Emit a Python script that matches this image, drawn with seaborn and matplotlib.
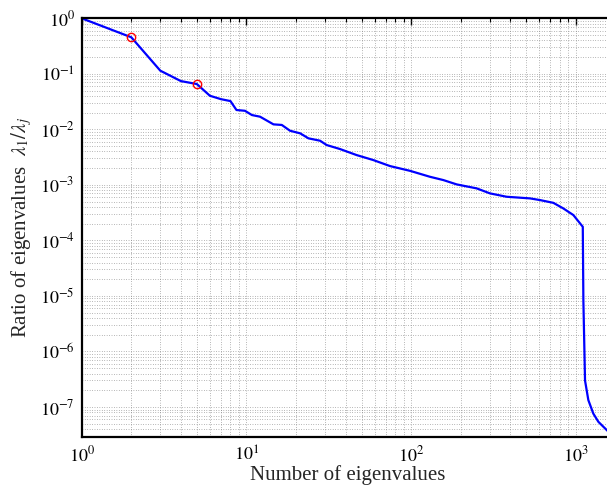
import matplotlib
matplotlib.use("Agg")
import matplotlib.pyplot as plt
import seaborn as sns
import pandas as pd
from matplotlib.ticker import FixedLocator, NullFormatter

# Eigenvalue ratio curve lambda_1 / lambda_j versus number of eigenvalues
n_eig = [1, 2, 3, 4, 5, 6, 7, 8, 8.7, 9.8, 10.8, 12.1, 14.6, 16.4, 18.4, 21.2,
         23.8, 28.0, 30.7, 37.0, 46.7, 58.9, 74.5, 98.5, 130, 157, 189, 250,
         301, 380, 527, 607, 730, 839, 966, 1102, 1111, 1137, 1191, 1277,
         1371, 1546, 1700]
ratio = [1.0, 0.455, 0.114, 0.074, 0.0655, 0.0403, 0.035, 0.0323, 0.0223,
         0.0216, 0.0181, 0.0169, 0.0123, 0.0120, 0.00944, 0.00848, 0.00689,
         0.00624, 0.00522, 0.00442, 0.00344, 0.0028, 0.00218, 0.00179, 0.0014,
         0.00122, 0.00102, 0.000865, 0.000703, 0.000611, 0.000571, 0.000532,
         0.000475, 0.000377, 0.000286, 0.000176, 8.4e-6, 3.0e-7, 1.33e-7,
         7.6e-8, 5.4e-8, 3.8e-8, 2.9e-8]

# Highlighted eigenvalue counts
mark_n = [2, 5]
mark_ratio = [0.455, 0.0655]

# Decade ticks
x_decades = [0, 1, 2, 3]
y_decades = [-7, -6, -5, -4, -3, -2, -1, 0]

curve = pd.DataFrame({"n": n_eig, "ratio": ratio})
marks = pd.DataFrame({"n": mark_n, "ratio": mark_ratio})

sns.set_style("white")
plt.rcParams["font.family"] = ["Liberation Serif", "DejaVu Serif"]
plt.rcParams["mathtext.fontset"] = "stix"

fig = plt.figure(figsize=(6.07, 4.88), dpi=100)
ax = fig.add_axes([0.1346, 0.1045, 0.8766, 0.858])

sns.lineplot(data=curve, x="n", y="ratio", ax=ax, color=(0, 0, 1),
             linewidth=1.6, sort=False, estimator=None)
ax.plot(marks["n"], marks["ratio"], linestyle="none", marker="o",
        markersize=6, markerfacecolor="none", markeredgecolor="red",
        markeredgewidth=1.0)

ax.set_xscale("log")
ax.set_yscale("log")
xlim = (1, 1700)
ylim = (2.88e-8, 1)
ax.set_xlim(*xlim)
ax.set_ylim(*ylim)


def minor_positions(lo_dec, hi_dec, lo, hi):
    vals = []
    for d in range(lo_dec, hi_dec + 1):
        for m in range(2, 10):
            v = m * 10.0 ** d
            if lo < v < hi:
                vals.append(v)
    return vals


ax.xaxis.set_major_locator(FixedLocator([10.0 ** d for d in x_decades]))
ax.yaxis.set_major_locator(FixedLocator([10.0 ** d for d in y_decades]))
ax.xaxis.set_minor_locator(FixedLocator(minor_positions(0, 3, *xlim)))
ax.yaxis.set_minor_locator(FixedLocator(minor_positions(-8, -1, *ylim)))
ax.xaxis.set_ticklabels([rf"$10^{{{d}}}$" for d in x_decades])
ax.yaxis.set_ticklabels([rf"$10^{{{d}}}$" for d in y_decades])
ax.xaxis.set_minor_formatter(NullFormatter())
ax.yaxis.set_minor_formatter(NullFormatter())

ax.grid(True, which="both", linestyle=(0, (1, 2.5)), color="0.45",
        linewidth=0.5)
ax.tick_params(which="both", direction="in", top=True, right=True,
               labelsize=13, colors="black")
ax.tick_params(which="major", length=5, width=1)
ax.tick_params(which="minor", length=3, width=0.8)
ax.tick_params(axis="y", pad=5)
ax.tick_params(axis="x", pad=6)

for side in ax.spines.values():
    side.set_visible(True)
    side.set_color("black")
    side.set_linewidth(1.6)

ax.set_xlabel("Number of eigenvalues", fontsize=15, labelpad=0)
ax.set_ylabel(r"Ratio of eigenvalues  $\lambda_1/\lambda_j$", fontsize=15,
              labelpad=4)

fig.savefig("out.png", dpi=100)
